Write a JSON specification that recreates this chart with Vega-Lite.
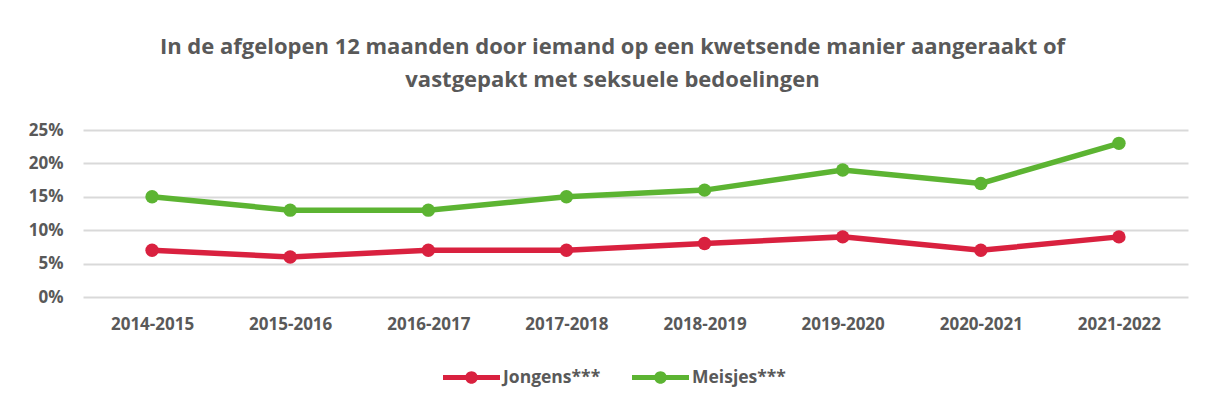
{
  "$schema": "https://vega.github.io/schema/vega-lite/v6.json",
  "width": 1105,
  "height": 167,
  "autosize": {"type": "none"},
  "padding": {"left": 83, "top": 130, "right": 20, "bottom": 106},
  "background": "white",
  "title": {
    "text": ["In de afgelopen 12 maanden door iemand op een kwetsende manier aangeraakt of", "vastgepakt met seksuele bedoelingen"],
    "anchor": "middle",
    "frame": "group",
    "dx": -23,
    "offset": 29,
    "font": "Open Sans",
    "fontSize": 22,
    "fontWeight": "bold",
    "color": "#595959",
    "lineHeight": 33
  },
  "config": {
    "view": {"stroke": null},
    "legend": {"padding": 0}
  },
  "data": {
    "values": [
      {"jaar": "2014-2015", "groep": "Jongens***", "pct": 0.07},
      {"jaar": "2015-2016", "groep": "Jongens***", "pct": 0.06},
      {"jaar": "2016-2017", "groep": "Jongens***", "pct": 0.07},
      {"jaar": "2017-2018", "groep": "Jongens***", "pct": 0.07},
      {"jaar": "2018-2019", "groep": "Jongens***", "pct": 0.08},
      {"jaar": "2019-2020", "groep": "Jongens***", "pct": 0.09},
      {"jaar": "2020-2021", "groep": "Jongens***", "pct": 0.07},
      {"jaar": "2021-2022", "groep": "Jongens***", "pct": 0.09},
      {"jaar": "2014-2015", "groep": "Meisjes***", "pct": 0.15},
      {"jaar": "2015-2016", "groep": "Meisjes***", "pct": 0.13},
      {"jaar": "2016-2017", "groep": "Meisjes***", "pct": 0.13},
      {"jaar": "2017-2018", "groep": "Meisjes***", "pct": 0.15},
      {"jaar": "2018-2019", "groep": "Meisjes***", "pct": 0.16},
      {"jaar": "2019-2020", "groep": "Meisjes***", "pct": 0.19},
      {"jaar": "2020-2021", "groep": "Meisjes***", "pct": 0.17},
      {"jaar": "2021-2022", "groep": "Meisjes***", "pct": 0.23}
    ]
  },
  "encoding": {
    "x": {
      "field": "jaar",
      "type": "ordinal",
      "scale": {"type": "point", "padding": 0.5},
      "axis": {
        "title": null,
        "labelAngle": 0,
        "domain": false,
        "ticks": false,
        "labelPadding": 19,
        "labelFont": "Open Sans",
        "labelFontSize": 17,
        "labelFontWeight": "bold",
        "labelColor": "#595959"
      }
    },
    "y": {
      "field": "pct",
      "type": "quantitative",
      "scale": {"domain": [0, 0.25], "nice": false},
      "axis": {
        "title": null,
        "format": ".0%",
        "values": [0, 0.05, 0.1, 0.15, 0.2, 0.25],
        "domain": false,
        "ticks": false,
        "labelPadding": 20,
        "gridColor": "#d9d9d9",
        "gridWidth": 2,
        "labelFont": "Open Sans",
        "labelFontSize": 17,
        "labelFontWeight": "bold",
        "labelColor": "#595959"
      }
    },
    "color": {
      "field": "groep",
      "type": "nominal",
      "scale": {"domain": ["Jongens***", "Meisjes***"], "range": ["#D9213F", "#5CB432"]},
      "legend": {
        "title": null,
        "orient": "none",
        "direction": "horizontal",
        "legendX": 360,
        "legendY": 219,
        "symbolType": "M-1,-0.09L1,-0.09L1,0.09L-1,0.09Z M0.22,0 A0.22,0.22 0 1,1 -0.22,0 A0.22,0.22 0 1,1 0.22,0Z",
        "symbolSize": 3249,
        "symbolStrokeWidth": 0,
        "symbolOpacity": 1,
        "columnPadding": 31,
        "labelOffset": 3,
        "labelFont": "Open Sans",
        "labelFontSize": 17.5,
        "labelFontWeight": "bold",
        "labelColor": "#595959"
      }
    }
  },
  "layer": [
    {
      "mark": {"type": "line", "strokeWidth": 5.5}
    },
    {
      "mark": {"type": "point", "filled": true, "size": 180, "opacity": 1}
    }
  ]
}
